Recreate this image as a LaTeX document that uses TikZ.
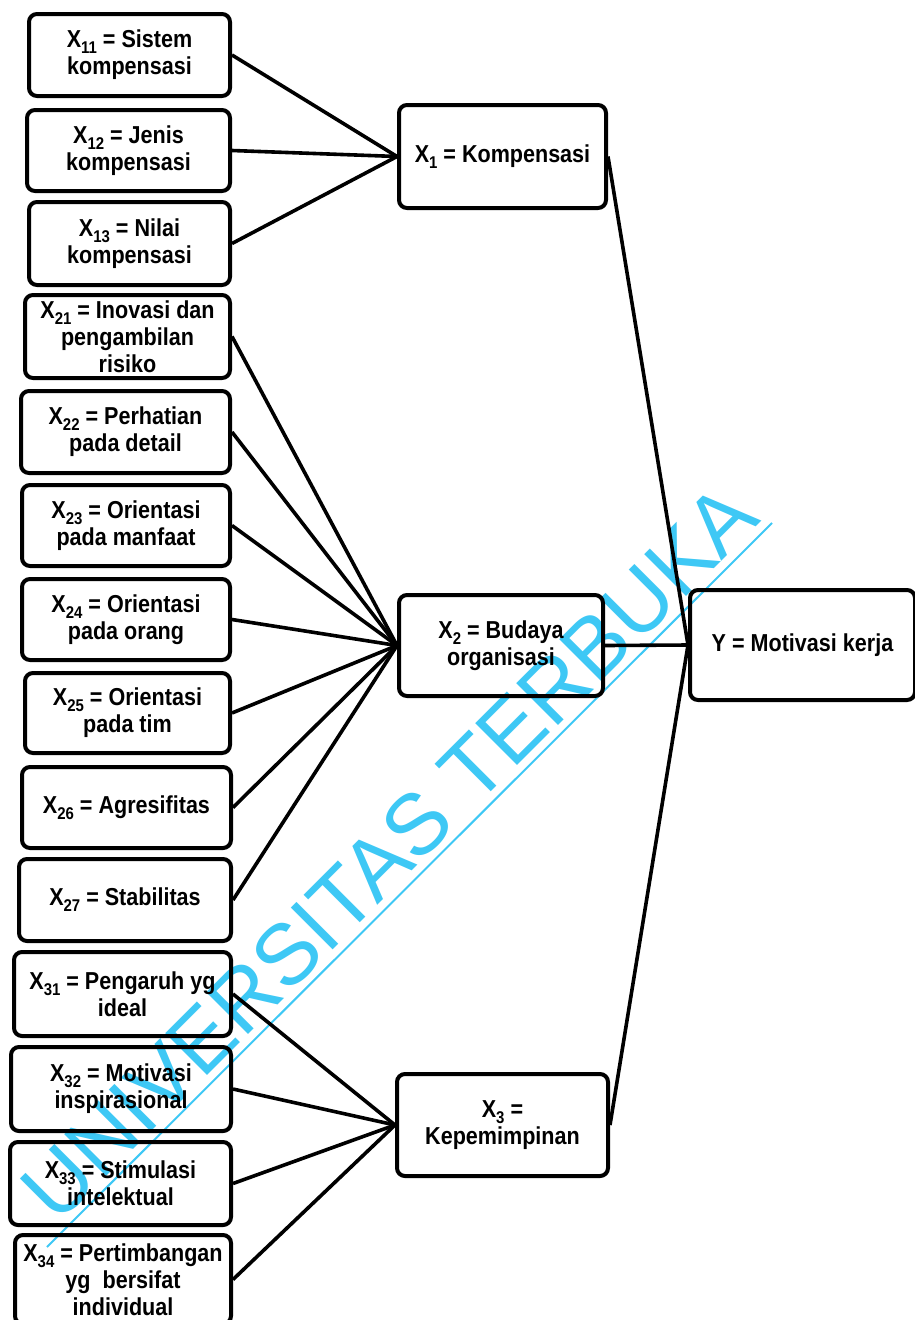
\documentclass[tikz,border=0pt]{standalone}
\usepackage{fontspec}
\setmainfont{Liberation Sans}[FakeStretch=0.88]
\newfontfamily\wmfont{Liberation Sans}
\newcommand\sbx[1]{\raisebox{-6pt}{\fontsize{17}{17}\selectfont #1}}
\definecolor{wmcol}{RGB}{62,200,245}
\begin{document}
\begin{tikzpicture}[x=1pt,y=-1pt,
  box/.style={draw, line width=4pt, rounded corners=8pt, align=center, inner sep=0pt,
              font=\fontsize{24.5}{27}\selectfont\bfseries},
  link/.style={line width=3.6pt},
  wmline/.style={draw=wmcol, line width=2pt}]
\useasboundingbox (0,0) rectangle (914,1320);
% watermark
\node[text=wmcol, rotate=45, anchor=base, inner sep=0pt, font=\fontsize{86}{86}\selectfont\wmfont] (wm) at (410,873) {UNIVERSITAS TERBUKA};
\coordinate (wmA) at (47,1247);
\coordinate (wmB) at (772,523);
\draw[wmline] (wmA) -- (wmB);
% left boxes
\node[box, minimum width=201pt, minimum height=82pt] (x11) at (129.5,55) {X\sbx{11} = Sistem\\kompensasi};
\node[box, minimum width=203pt, minimum height=81pt] (x12) at (128.5,150.5) {X\sbx{12} = Jenis\\kompensasi};
\node[box, minimum width=201pt, minimum height=83pt] (x13) at (129.5,243.5) {X\sbx{13} = Nilai\\kompensasi};
\node[box, minimum width=205pt, minimum height=83pt] (x21) at (127.5,336.5) {X\sbx{21} = Inovasi dan\\pengambilan\\risiko};
\node[box, minimum width=209pt, minimum height=82pt] (x22) at (125.5,432) {X\sbx{22} = Perhatian\\pada detail};
\node[box, minimum width=208pt, minimum height=81pt] (x23) at (126,525.5) {X\sbx{23} = Orientasi\\pada manfaat};
\node[box, minimum width=208pt, minimum height=81pt] (x24) at (126,619.5) {X\sbx{24} = Orientasi\\pada orang};
\node[box, minimum width=205pt, minimum height=80pt] (x25) at (127.5,713) {X\sbx{25} = Orientasi\\pada tim};
\node[box, minimum width=209pt, minimum height=81pt] (x26) at (126.5,807.5) {X\sbx{26} = Agresifitas};
\node[box, minimum width=212pt, minimum height=82pt] (x27) at (125,900) {X\sbx{27} = Stabilitas};
\node[box, minimum width=217pt, minimum height=84pt] (x31) at (122.5,994) {X\sbx{31} = Pengaruh yg\\ideal};
\node[box, minimum width=220pt, minimum height=84pt] (x32) at (121,1089) {X\sbx{32} = Motivasi\\inspirasional};
\node[box, minimum width=221pt, minimum height=83pt] (x33) at (120.5,1183.5) {X\sbx{33} = Stimulasi\\intelektual};
\node[box, minimum width=216pt, minimum height=89pt] (x34) at (123,1279.5) {X\sbx{34} = Pertimbangan\\yg~ bersifat\\individual};
% middle boxes
\node[box, minimum width=207pt, minimum height=103pt] (X1) at (502.5,156.5) {X\sbx{1} = Kompensasi};
\node[box, minimum width=204pt, minimum height=101pt] (X2) at (501,645.5) {X\sbx{2} = Budaya\\organisasi};
\node[box, minimum width=211pt, minimum height=102pt] (X3) at (502.5,1125) {X\sbx{3} =\\Kepemimpinan};
\node[box, minimum width=225pt, minimum height=110pt] (Y) at (802.5,645) {Y = Motivasi kerja};
% connectors
\foreach \s in {x11,x12,x13} \draw[link] (\s.east) -- (X1.west);
\foreach \s in {x21,x22,x23,x24,x25,x26,x27} \draw[link] (\s.east) -- (X2.west);
\foreach \s in {x31,x32,x33,x34} \draw[link] (\s.east) -- (X3.west);
\foreach \s in {X1,X2,X3} \draw[link] (\s.east) -- (Y.west);
\end{tikzpicture}
\end{document}
